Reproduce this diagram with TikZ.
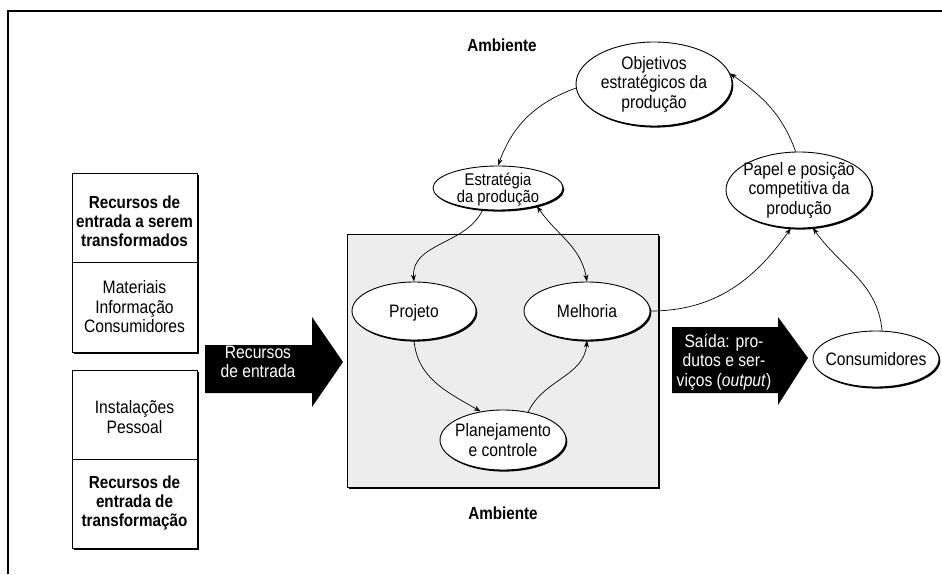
\documentclass[tikz,border=0pt]{standalone}
\usepackage{fontspec}
\setmainfont[FakeStretch=0.87]{Liberation Sans}
\usetikzlibrary{shapes.geometric,arrows.meta,shadows}
\begin{document}
\begin{tikzpicture}[x=1pt,y=1pt,
  txt/.style={font=\fontsize{18}{19.5}\selectfont, align=center, inner sep=0pt},
  etxt/.style={txt, text depth=0pt},
  btxt/.style={txt, font=\fontsize{17.5}{19}\selectfont\bfseries},
  wtxt/.style={txt, text=white},
  ell/.style={ellipse, draw, line width=0.9pt, fill=white, inner sep=0pt,
    drop shadow={shadow xshift=1.3pt, shadow yshift=-1.6pt, opacity=1, fill=black}},
  boxsh/.style={draw, line width=0.9pt, fill=white,
    drop shadow={shadow xshift=1.6pt, shadow yshift=-1.8pt, opacity=1, fill=black}},
  conn/.style={line width=0.7pt, -{Stealth[length=7pt,width=5pt]}},
  bigarrow/.style={fill=black}
]
\useasboundingbox (0,0) rectangle (942,574);
% outer frame
\coordinate (fbl) at (8,0);
\coordinate (ftl) at (8,563);
\coordinate (ftr) at (942,563);
\draw[line width=2pt] (fbl) -- (ftl) -- (ftr);

% left boxes
\node[boxsh, minimum width=125pt, minimum height=179pt, inner sep=0pt] (box1) at (134.5,311.5) {};
\coordinate (d1l) at (72,312); \coordinate (d1r) at (197,312);
\draw[line width=0.6pt] (d1l) -- (d1r);
\node[btxt] (b1a) at (134.5,353) {Recursos de\\entrada a serem\\transformados};
\node[txt] (b1b) at (134.5,267) {Materiais\\Informação\\Consumidores};

\node[boxsh, minimum width=125pt, minimum height=178pt, inner sep=0pt] (box2) at (134.5,115) {};
\coordinate (d2l) at (72,115); \coordinate (d2r) at (197,115);
\draw[line width=0.6pt] (d2l) -- (d2r);
\node[txt] (b2a) at (134.5,157) {Instalações\\Pessoal};
\node[btxt] (b2b) at (134.5,71) {Recursos de\\entrada de\\transformação};

% big arrow in
\fill[bigarrow] (205,229) -- (312,229) -- (312,257) -- (343,212) -- (312,167) -- (312,181) -- (205,181) -- cycle;
\node[wtxt] (ain) at (258,212) {Recursos\\de entrada};

% central box
\node[boxsh, fill=black!7, minimum width=311pt, minimum height=253pt, inner sep=0pt] (cbox) at (502.5,213.5) {};

% Ambiente labels
\node[btxt] (amb1) at (502,529) {Ambiente};
\node[btxt] (amb2) at (503,61) {Ambiente};

% ellipses
\node[ell, minimum width=124pt, minimum height=58pt] (proj) at (414,263) {};
\node[etxt] (projt) at (proj.center) {Projeto};
\node[ell, minimum width=126pt, minimum height=58pt] (melh) at (587,263) {};
\node[etxt] (melht) at (melh.center) {Melhoria};
\node[ell, minimum width=126pt, minimum height=60pt] (plan) at (503,134) {};
\node[txt] (plant) at (plan.center) {Planejamento\\e controle};
\node[ell, minimum width=130pt, minimum height=44pt] (estr) at (498,386) {};
\node[txt, font=\fontsize{17}{17}\selectfont, text depth=0pt] (estrt) at (estr.center) {Estratégia\\da produção};
\node[ell, minimum width=156pt, minimum height=84pt] (obj) at (654,490) {};
\node[txt] (objt) at (obj.center) {Objetivos\\estratégicos da\\produção};
\node[ell, minimum width=146pt, minimum height=76pt] (pap) at (799,384) {};
\node[txt] (papt) at (pap.center) {Papel e posição\\competitiva da\\produção};
\node[ell, minimum width=126pt, minimum height=56pt] (cons) at (876,215) {};
\node[etxt] (const) at (cons.center) {Consumidores};

% big arrow out
\fill[bigarrow] (672,247) -- (778,247) -- (778,257) -- (808,216) -- (778,169) -- (778,181) -- (672,181) -- cycle;
\node[wtxt] (aout) at (724,212) {Saída: pro-\\dutos e ser-\\viços (\textit{output})};

% connectors
\draw[conn] (obj.183) to[out=200,in=70] (estr.north);
\draw[conn] (estr.235) to[out=245,in=95] (proj.north);
\draw[conn, {Stealth[length=7pt,width=5pt]}-{Stealth[length=7pt,width=5pt]}] (estr.-25) to[out=-55,in=100] (melh.north);
\draw[conn] (proj.south) to[out=-85,in=150] (plan.128);
\draw[conn] (plan.48) to[out=65,in=-95] (melh.south);
\draw[conn] (melh.east) to[out=0,in=235] (pap.258);
\draw[conn] (cons.78) to[out=95,in=-55] (pap.290);
\draw[conn] (pap.95) to[out=110,in=-35] (obj.8);
\end{tikzpicture}
\end{document}
